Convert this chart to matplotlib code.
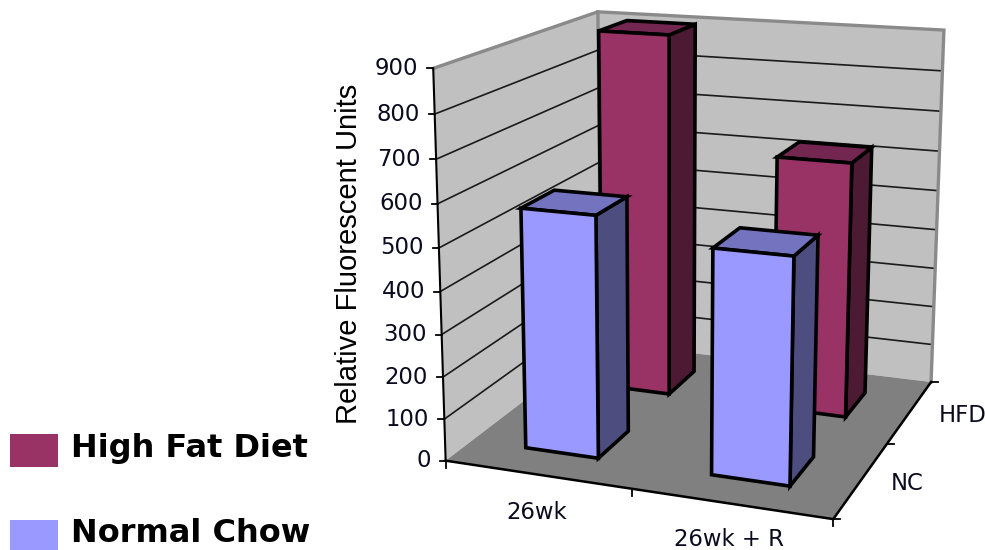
import matplotlib
matplotlib.use('Agg')
import matplotlib.pyplot as plt
from matplotlib.patches import Polygon, Rectangle
import numpy as np

categories = ['26wk', '26wk + R']
series_names = ['NC', 'HFD']
legend_names = ['High Fat Diet', 'Normal Chow']
nc_values = [570, 522]
hfd_values = [903, 627]
value_ticks = [0, 100, 200, 300, 400, 500, 600, 700, 800, 900]

BAR_WIDTH = 0.40
BAR_DEPTH = 0.40
MAX_VALUE = value_ticks[-1]

MAROON = ('#993366', '#732650', '#4d1a33')
PERIWINKLE = ('#9999ff', '#7373bf', '#4d4d80')
WALL = '#c0c0c0'
WALL_EDGE = '#8a8a8a'
FLOOR = '#808080'

# where the corners of the plot box land on the canvas, in (category, series, value)
anchors = [
    ((0, 0, 0), (447, 463)),
    ((0, 0, 900), (433, 67)),
    ((0, 2, 900), (598, 13)),
    ((2, 2, 900), (944, 30)),
    ((2, 2, 0), (932, 383)),
    ((2, 0, 0), (832, 518)),
    ((0, 2, 0), (600, 340)),
]


def fit_camera(pairs):
    rows, rhs = [], []
    for (x, y, z), (px, py) in pairs:
        rows.append([x, y, z, 1, 0, 0, 0, 0, -px * x, -px * y, -px * z])
        rows.append([0, 0, 0, 0, x, y, z, 1, -py * x, -py * y, -py * z])
        rhs += [px, py]
    sol = np.linalg.lstsq(np.array(rows, float), np.array(rhs, float), rcond=None)[0]
    return np.append(sol, 1.0).reshape(3, 4)


camera = fit_camera(anchors)


def project(x, y, z):
    px, py, w = camera @ np.array([x, y, z, 1.0])
    return px / w, py / w


def poly(ax, corners, face, edge, lw, z):
    pts = [project(*c) for c in corners]
    ax.add_patch(Polygon(pts, closed=True, facecolor=face, edgecolor=edge, linewidth=lw,
                         joinstyle='miter', zorder=z))


def line3(ax, corners, color, lw, z=2):
    xs, ys = zip(*[project(*c) for c in corners])
    ax.plot(xs, ys, color=color, lw=lw, zorder=z, solid_capstyle='projecting', solid_joinstyle='miter')


def draw_bar(ax, cat, ser, value, colors, z):
    x0, x1 = cat + 0.5 - BAR_WIDTH / 2, cat + 0.5 + BAR_WIDTH / 2
    y0, y1 = ser + 0.5 - BAR_DEPTH / 2, ser + 0.5 + BAR_DEPTH / 2
    front, top, side = colors
    poly(ax, [(x1, y0, 0), (x1, y1, 0), (x1, y1, value), (x1, y0, value)], side, 'black', 2.6, z)
    poly(ax, [(x0, y0, value), (x1, y0, value), (x1, y1, value), (x0, y1, value)], top, 'black', 2.6, z)
    poly(ax, [(x0, y0, 0), (x1, y0, 0), (x1, y0, value), (x0, y0, value)], front, 'black', 2.6, z)


fig = plt.figure(figsize=(9.85, 5.5), dpi=100)
ax = fig.add_axes([0, 0, 1, 1])
ax.set_xlim(0, 985)
ax.set_ylim(550, 0)
ax.axis('off')

# walls and floor
poly(ax, [(0, 0, 0), (0, 2, 0), (0, 2, MAX_VALUE), (0, 0, MAX_VALUE)], WALL, 'none', 0, 1)
poly(ax, [(0, 2, 0), (2, 2, 0), (2, 2, MAX_VALUE), (0, 2, MAX_VALUE)], WALL, 'none', 0, 1)
poly(ax, [(0, 0, 0), (2, 0, 0), (2, 2, 0), (0, 2, 0)], FLOOR, 'none', 0, 1.5)

for v in value_ticks[1:-1]:
    line3(ax, [(0, 0, v), (0, 2, v), (2, 2, v)], '#1a1a1a', 1.2)

line3(ax, [(0, 0, MAX_VALUE), (0, 2, MAX_VALUE), (2, 2, MAX_VALUE), (2, 2, 0)], WALL_EDGE, 2.4)
line3(ax, [(0, 2, 0), (0, 2, MAX_VALUE)], WALL_EDGE, 2.4, z=1.8)

# axes and tick marks
line3(ax, [(0, 0, 0), (0, 0, MAX_VALUE)], 'black', 1.5, z=3)
line3(ax, [(0, 0, 0), (2, 0, 0), (2, 2, 0)], 'black', 1.8, z=3)
for v in value_ticks:
    px, py = project(0, 0, v)
    ax.plot([px - 6, px], [py, py], color='black', lw=1.3, zorder=3)
    ax.text(px - 15, py, str(v), ha='right', va='center', fontsize=16.4, color='#0b0b20', family='DejaVu Sans')
for c in range(len(categories) + 1):
    px, py = project(c, 0, 0)
    ax.plot([px, px], [py, py + 7], color='black', lw=1.3, zorder=3)
for s in range(len(series_names) + 1):
    px, py = project(2, s, 0)
    ax.plot([px, px + 7], [py, py], color='black', lw=1.3, zorder=3)

for c, name in enumerate(categories):
    px, py = project(c + 0.5, 0, 0)
    ax.text(px - 1.5 * c, py + 38 - 2 * c, name, ha='center', va='center', fontsize=16.4, color='#0b0b20',
            family='DejaVu Sans')
for s, name in enumerate(series_names):
    px, py = project(2, s + 0.5, 0)
    ax.text(px + 29, py + 4, name, ha='left', va='center', fontsize=16.4, color='#0b0b20', family='DejaVu Sans')

ax.text(349, 254, 'Relative Fluorescent Units', rotation=90, ha='center', va='center',
        fontsize=21, color='black', family='Liberation Sans')

# bars, back row first so the front row covers it
for c, v in enumerate(hfd_values):
    draw_bar(ax, c, 1, v, MAROON, 4 + c * 0.1)
for c, v in enumerate(nc_values):
    draw_bar(ax, c, 0, v, PERIWINKLE, 5 + c * 0.1)

# legend
for name, colors, top in zip(legend_names, [MAROON, PERIWINKLE], [434, 520]):
    ax.add_patch(Rectangle((10, top), 48, 33, facecolor=colors[0], edgecolor='none'))
    ax.text(71, top + 14, name, ha='left', va='center', fontsize=23, fontweight='bold',
            color='black', family='DejaVu Sans')

fig.savefig('out.png', dpi=100)
